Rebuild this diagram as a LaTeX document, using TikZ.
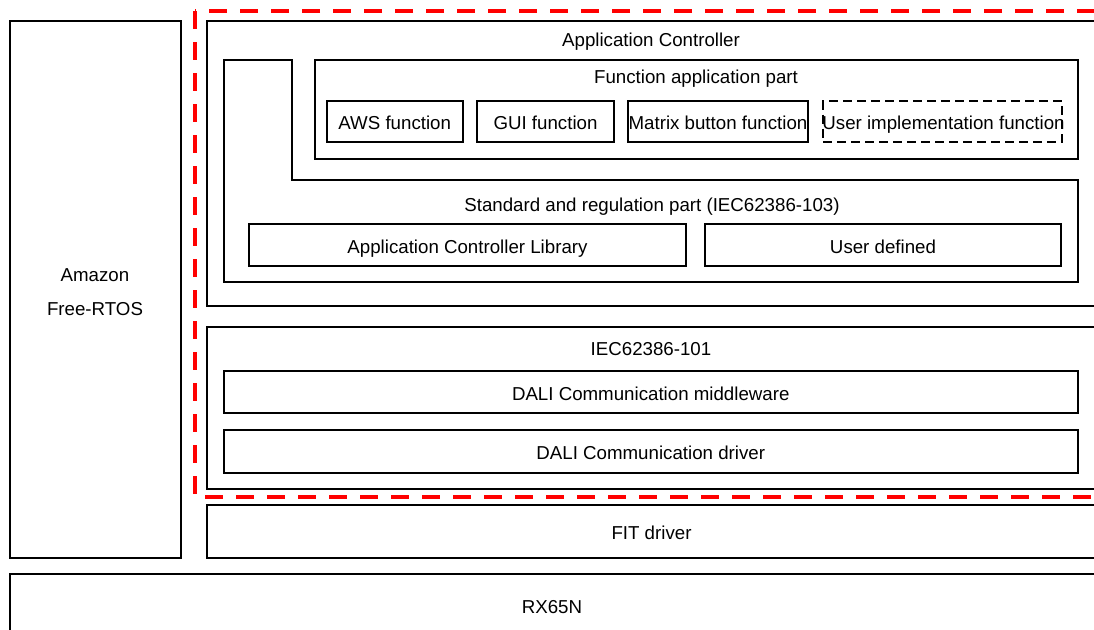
\documentclass[tikz,border=0pt]{standalone}
\usepackage{fontspec}
\setmainfont{Liberation Sans}
\begin{document}
\begin{tikzpicture}[x=1pt,y=-1pt,
  box/.style={draw, line width=2pt, inner sep=0pt, outer sep=0pt, align=center},
  lbl/.style={inner sep=0pt, font=\fontsize{18.7}{22}\selectfont},
  txt/.style={font=\fontsize{18.7}{22}\selectfont, text height=17pt, text depth=0.5pt},
  udash/.style={dash pattern=on 9pt off 5pt},
  reddash/.style={draw=red, line width=4.5pt, dash pattern=on 18pt off 13pt}]
\clip (0,0) rectangle (1094,629);
\fill[white] (0,0) rectangle (1094,629);
% left column and bottom
\node[box, minimum width=170.5pt, minimum height=537pt] (amazon) at (95.25,289) {};
\node[lbl, align=center] (amazont) at (95,292) {Amazon\\[11.5pt]Free-RTOS};
\node[box, txt, minimum width=1086pt, minimum height=62pt] (rx) at (553,605) {};
\node[lbl] (rxt) at (552,607) {RX65N};
% application controller
\node[box, minimum width=889pt, minimum height=285pt] (appctrl) at (651.5,163) {};
\node[lbl] (appt) at (651,42) {Application Controller};
\node[box, minimum width=763pt, minimum height=99pt] (funcapp) at (696,109.5) {};
\node[lbl] (funct) at (696,79) {Function application part};
\node[box, txt, minimum width=136.5pt, minimum height=40.5pt] (aws) at (394.75,121.25) {AWS function};
\node[box, txt, minimum width=137pt, minimum height=40.5pt] (gui) at (545.5,121.25) {GUI function};
\node[box, txt, minimum width=180pt, minimum height=40.5pt] (matrix) at (718,121.25) {Matrix button function};
\node[box, udash, minimum width=239pt, minimum height=40.5pt] (userimpl) at (942.5,121.25) {};
\node[txt, inner sep=0pt] (userimplt) at (943.5,121.25) {User implementation function};
\draw[line width=2pt] (224,60) -- (292,60) -- (292,180) -- (1077.5,180) -- (1077.5,282) -- (224,282) -- cycle;
\node[lbl] (stdt) at (652,207) {Standard and regulation part (IEC62386-103)};
\node[box, txt, minimum width=437pt, minimum height=42.5pt] (acl) at (467.5,244.75) {Application Controller Library};
\node[box, txt, minimum width=356pt, minimum height=42.5pt] (userdef) at (883,244.75) {User defined};
% IEC62386-101
\node[box, minimum width=889pt, minimum height=162pt] (iec) at (651.5,407.5) {};
\node[lbl] (iect) at (651,349) {IEC62386-101};
\node[box, txt, minimum width=853.5pt, minimum height=42pt] (mw) at (650.75,392) {DALI Communication middleware};
\node[box, txt, minimum width=853.5pt, minimum height=42.5pt] (drv) at (650.75,451.25) {DALI Communication driver};
% FIT driver
\node[box, txt, minimum width=889pt, minimum height=53pt] (fit) at (651.5,531) {FIT driver};
% red dashed frame
\draw[reddash] (195,11) rectangle (1120,497);
\end{tikzpicture}
\end{document}
